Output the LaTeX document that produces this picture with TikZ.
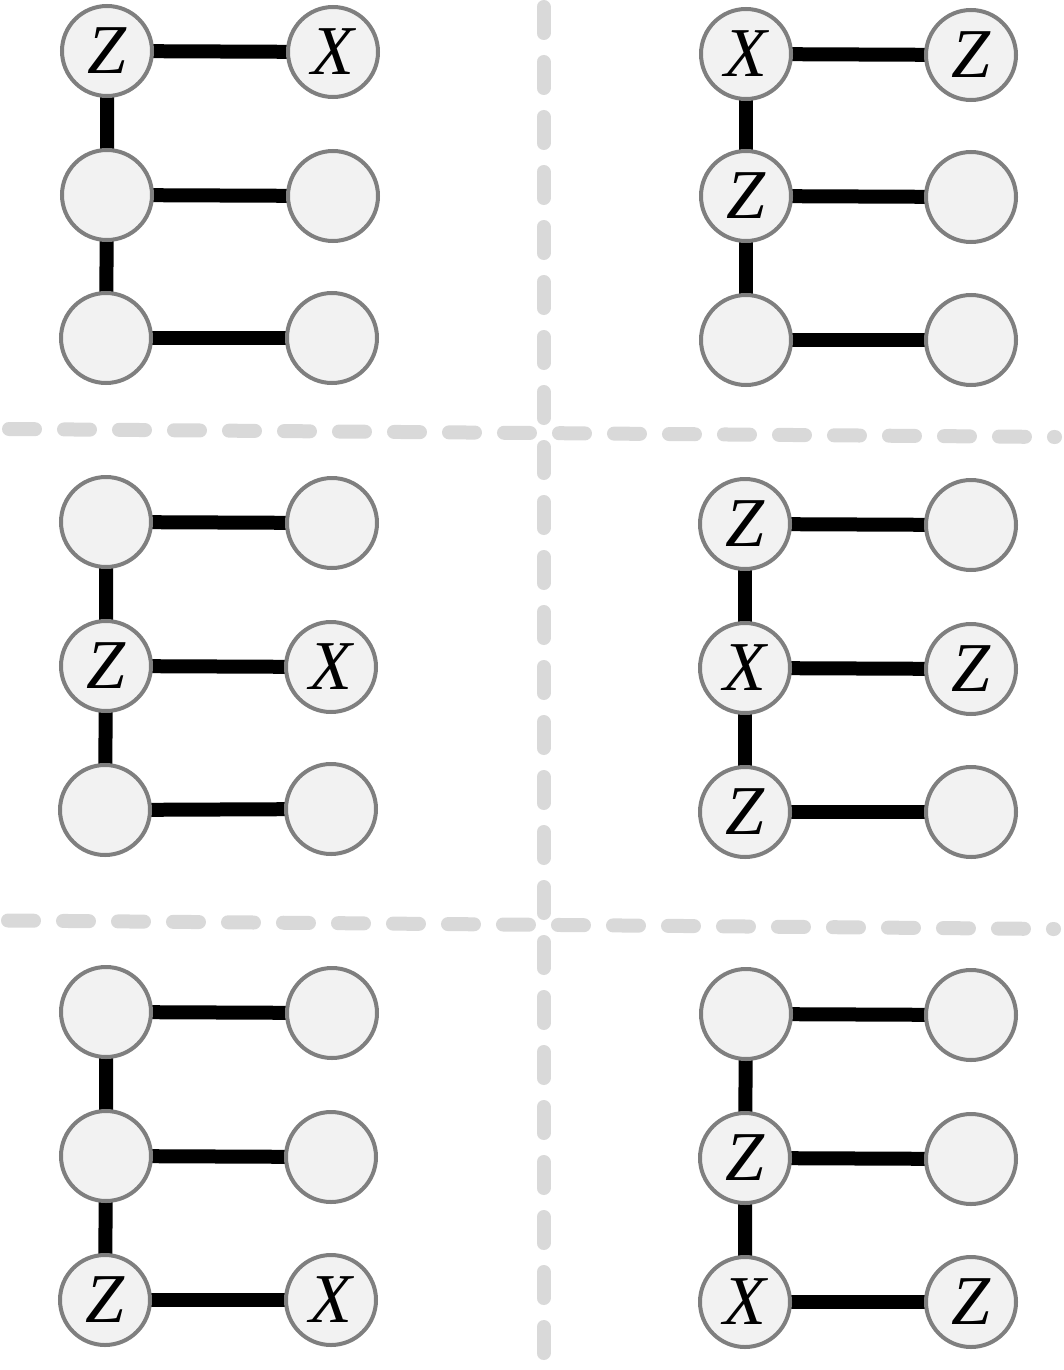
\documentclass[tikz,border=0pt]{standalone}
\usepackage{fontspec}
\newfontfamily\labfont{Liberation Serif}
\usetikzlibrary{backgrounds}
\definecolor{nodefill}{HTML}{F2F2F2}
\definecolor{nodeline}{HTML}{7F7F7F}
\definecolor{sepgray}{HTML}{D9D9D9}
\tikzset{
  qubit/.style={circle, draw=nodeline, fill=nodefill, line width=4pt, minimum size=90pt, inner sep=0pt,
    font=\labfont\itshape\fontsize{70}{70}\selectfont},
  bond/.style={line width=14pt, black},
  sepline/.style={draw=sepgray, line width=14pt, line cap=round, dash pattern=on 26pt off 29pt}
}
\begin{document}
\begin{tikzpicture}[x=1pt, y=-1pt]
\useasboundingbox (0,0) rectangle (1063,1370);
% separators
\coordinate (v1) at (543.5,7);
\coordinate (v2) at (543.5,1354);
\coordinate (h1a) at (9,429);
\coordinate (h1b) at (1055,437);
\coordinate (h2a) at (8,920.5);
\coordinate (h2b) at (1054,929);
\draw[sepline] (v1) -- (v2);
\draw[sepline] (h1a) -- (h1b);
\draw[sepline] (h2a) -- (h2b);
% panel TL
\node[qubit] (a1) at (107,51) {Z};
\node[qubit] (a2) at (107,195) {};
\node[qubit] (a3) at (106,338) {};
\node[qubit] (b1) at (333,52) {X};
\node[qubit] (b2) at (333,196) {};
\node[qubit] (b3) at (332,338) {};
% panel TR
\node[qubit] (c1) at (746,54) {X};
\node[qubit] (c2) at (746,196) {Z};
\node[qubit] (c3) at (746,340) {};
\node[qubit] (d1) at (971,55) {Z};
\node[qubit] (d2) at (971,197) {};
\node[qubit] (d3) at (971,340) {};
% panel ML
\node[qubit] (e1) at (106,522) {};
\node[qubit] (e2) at (106,666) {Z};
\node[qubit] (e3) at (105,810) {};
\node[qubit] (f1) at (332,523) {};
\node[qubit] (f2) at (331,667) {X};
\node[qubit] (f3) at (331,809) {};
% panel MR
\node[qubit] (g1) at (745,524) {Z};
\node[qubit] (g2) at (745,668) {X};
\node[qubit] (g3) at (745,812) {Z};
\node[qubit] (h1) at (971,525) {};
\node[qubit] (h2) at (971,669) {Z};
\node[qubit] (h3) at (971,812) {};
% panel BL
\node[qubit] (i1) at (106,1012) {};
\node[qubit] (i2) at (106,1156) {};
\node[qubit] (i3) at (105,1300) {Z};
\node[qubit] (j1) at (332,1013) {};
\node[qubit] (j2) at (331,1157) {};
\node[qubit] (j3) at (331,1300) {X};
% panel BR
\node[qubit] (k1) at (746,1014) {};
\node[qubit] (k2) at (745,1158) {Z};
\node[qubit] (k3) at (745,1302) {X};
\node[qubit] (l1) at (971,1015) {};
\node[qubit] (l2) at (971,1159) {};
\node[qubit] (l3) at (971,1302) {Z};
\begin{scope}[on background layer]
\foreach \p/\q in {a/b, c/d, e/f, g/h, i/j, k/l}{
  \draw[bond] (\p1.center) -- (\p2.center) -- (\p3.center);
  \draw[bond] (\p1.center) -- (\q1.center);
  \draw[bond] (\p2.center) -- (\q2.center);
  \draw[bond] (\p3.center) -- (\q3.center);
}
\end{scope}
\end{tikzpicture}
\end{document}
